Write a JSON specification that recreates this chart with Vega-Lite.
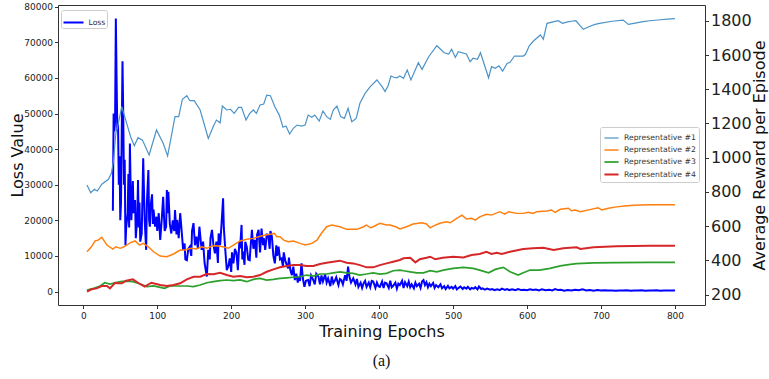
{
"$schema": "https://vega.github.io/schema/vega-lite/v6.json",
"width": 647,
"height": 300,
"autosize": {"type": "none"},
"padding": {"left": 58, "top": 5, "right": 64, "bottom": 74},
"background": "white",
"config": {
  "font": "DejaVu Sans",
  "view": {"stroke": "#333", "strokeWidth": 1},
  "axis": {"grid": false, "domain": false, "tickColor": "#333", "tickSize": 3.5, "labelColor": "#222", "titleColor": "#111", "titleFontWeight": "normal"}
},
"title": {"text": "(a)", "orient": "bottom", "font": "Liberation Serif", "fontSize": 16, "fontWeight": "normal", "color": "#111", "offset": 13},
"datasets": {
  "loss": [
{"epoch":40,"loss":22700},{"epoch":41,"loss":50000},{"epoch":42,"loss":45000},{"epoch":43,"loss":48000},{"epoch":44,"loss":76700},{"epoch":45,"loss":60000},{"epoch":46,"loss":45000},{"epoch":47,"loss":47000},{"epoch":48,"loss":30000},{"epoch":49,"loss":38000},{"epoch":50,"loss":20000},{"epoch":51,"loss":25000},{"epoch":52,"loss":45000},{"epoch":53,"loss":64700},{"epoch":54,"loss":50000},{"epoch":55,"loss":30000},{"epoch":56,"loss":37000},{"epoch":57,"loss":13000},{"epoch":58,"loss":18000},{"epoch":60,"loss":22000},{"epoch":61,"loss":33000},{"epoch":62,"loss":18000},{"epoch":63,"loss":41600},{"epoch":64,"loss":29400},{"epoch":65,"loss":20000},{"epoch":67,"loss":31000},{"epoch":68,"loss":22000},{"epoch":70,"loss":25700},{"epoch":71,"loss":15000},{"epoch":73,"loss":21000},{"epoch":74,"loss":31300},{"epoch":75,"loss":18000},{"epoch":76,"loss":25000},{"epoch":77,"loss":14000},{"epoch":79,"loss":16300},{"epoch":81,"loss":37400},{"epoch":83,"loss":20000},{"epoch":85,"loss":11700},{"epoch":86,"loss":25000},{"epoch":88,"loss":34100},{"epoch":89,"loss":20000},{"epoch":90,"loss":18200},{"epoch":91,"loss":24000},{"epoch":93,"loss":27300},{"epoch":94,"loss":19000},{"epoch":95,"loss":23000},{"epoch":97,"loss":18200},{"epoch":99,"loss":21000},{"epoch":100,"loss":17000},{"epoch":102,"loss":22000},{"epoch":104,"loss":14500},{"epoch":106,"loss":20000},{"epoch":108,"loss":26600},{"epoch":110,"loss":17000},{"epoch":112,"loss":18200},{"epoch":113,"loss":28500},{"epoch":114,"loss":22000},{"epoch":115,"loss":28000},{"epoch":117,"loss":19000},{"epoch":119,"loss":16300},{"epoch":121,"loss":20000},{"epoch":123,"loss":17000},{"epoch":124,"loss":22900},{"epoch":126,"loss":16000},{"epoch":127,"loss":20100},{"epoch":129,"loss":15000},{"epoch":131,"loss":22000},{"epoch":133,"loss":17000},{"epoch":135,"loss":11700},{"epoch":137,"loss":13500},{"epoch":138,"loss":9000},{"epoch":140,"loss":8800},{"epoch":142,"loss":12000},{"epoch":144,"loss":12600},{"epoch":146,"loss":10000},{"epoch":147,"loss":17000},{"epoch":149,"loss":19200},{"epoch":151,"loss":13000},{"epoch":153,"loss":15400},{"epoch":155,"loss":12000},{"epoch":157,"loss":18200},{"epoch":158,"loss":16000},{"epoch":160,"loss":11700},{"epoch":162,"loss":14000},{"epoch":164,"loss":8000},{"epoch":167,"loss":4200},{"epoch":169,"loss":11700},{"epoch":171,"loss":9000},{"epoch":172,"loss":15000},{"epoch":174,"loss":17300},{"epoch":176,"loss":13000},{"epoch":178,"loss":10700},{"epoch":180,"loss":14000},{"epoch":182,"loss":8000},{"epoch":183,"loss":16300},{"epoch":185,"loss":13000},{"epoch":187,"loss":19200},{"epoch":189,"loss":26200},{"epoch":190,"loss":18000},{"epoch":192,"loss":11700},{"epoch":194,"loss":6000},{"epoch":196,"loss":7000},{"epoch":198,"loss":9300},{"epoch":200,"loss":5500},{"epoch":201,"loss":11000},{"epoch":203,"loss":7900},{"epoch":205,"loss":12000},{"epoch":207,"loss":10900},{"epoch":209,"loss":6000},{"epoch":211,"loss":14000},{"epoch":212,"loss":12100},{"epoch":214,"loss":18700},{"epoch":215,"loss":9000},{"epoch":216,"loss":11200},{"epoch":218,"loss":7500},{"epoch":219,"loss":14000},{"epoch":221,"loss":12600},{"epoch":223,"loss":9000},{"epoch":225,"loss":8800},{"epoch":226,"loss":12000},{"epoch":228,"loss":17300},{"epoch":230,"loss":12000},{"epoch":232,"loss":14500},{"epoch":234,"loss":9500},{"epoch":235,"loss":16000},{"epoch":237,"loss":17300},{"epoch":239,"loss":11000},{"epoch":241,"loss":17700},{"epoch":243,"loss":13000},{"epoch":244,"loss":15000},{"epoch":246,"loss":11700},{"epoch":248,"loss":16000},{"epoch":250,"loss":15900},{"epoch":252,"loss":12000},{"epoch":253,"loss":17000},{"epoch":255,"loss":15400},{"epoch":257,"loss":10000},{"epoch":259,"loss":7900},{"epoch":261,"loss":13000},{"epoch":262,"loss":10000},{"epoch":264,"loss":12600},{"epoch":266,"loss":9000},{"epoch":268,"loss":9300},{"epoch":270,"loss":7000},{"epoch":271,"loss":11000},{"epoch":273,"loss":8800},{"epoch":275,"loss":7500},{"epoch":277,"loss":6500},{"epoch":278,"loss":9500},{"epoch":280,"loss":6000},{"epoch":282,"loss":4600},{"epoch":284,"loss":7000},{"epoch":286,"loss":3200},{"epoch":288,"loss":5000},{"epoch":290,"loss":2500},{"epoch":291,"loss":4200},{"epoch":293,"loss":3000},{"epoch":295,"loss":7900},{"epoch":297,"loss":3500},{"epoch":299,"loss":1300},{"epoch":301,"loss":3000},{"epoch":304,"loss":3200},{"epoch":306,"loss":1500},{"epoch":308,"loss":4500},{"epoch":311,"loss":3200},{"epoch":313,"loss":2000},{"epoch":315,"loss":5000},{"epoch":318,"loss":4200},{"epoch":320,"loss":2000},{"epoch":322,"loss":4500},{"epoch":324,"loss":2800},{"epoch":327,"loss":4800},{"epoch":329,"loss":2500},{"epoch":331,"loss":3700},{"epoch":334,"loss":1500},{"epoch":336,"loss":4200},{"epoch":338,"loss":2300},{"epoch":340,"loss":3000},{"epoch":342,"loss":4000},{"epoch":345,"loss":1800},{"epoch":347,"loss":3500},{"epoch":349,"loss":3200},{"epoch":351,"loss":2000},{"epoch":354,"loss":4600},{"epoch":356,"loss":3000},{"epoch":358,"loss":7000},{"epoch":360,"loss":4000},{"epoch":362,"loss":2500},{"epoch":365,"loss":3700},{"epoch":368,"loss":2000},{"epoch":370,"loss":3500},{"epoch":372,"loss":1300},{"epoch":375,"loss":2500},{"epoch":377,"loss":1000},{"epoch":379,"loss":2300},{"epoch":381,"loss":3000},{"epoch":383,"loss":1300},{"epoch":386,"loss":2500},{"epoch":388,"loss":1200},{"epoch":390,"loss":3000},{"epoch":392,"loss":2800},{"epoch":395,"loss":1000},{"epoch":397,"loss":2500},{"epoch":399,"loss":1500},{"epoch":401,"loss":1300},{"epoch":404,"loss":2800},{"epoch":406,"loss":1000},{"epoch":408,"loss":2500},{"epoch":410,"loss":2300},{"epoch":413,"loss":1000},{"epoch":415,"loss":3000},{"epoch":417,"loss":1200},{"epoch":419,"loss":1600},{"epoch":422,"loss":2500},{"epoch":424,"loss":800},{"epoch":426,"loss":2200},{"epoch":428,"loss":1800},{"epoch":431,"loss":3000},{"epoch":433,"loss":1000},{"epoch":435,"loss":2600},{"epoch":438,"loss":1500},{"epoch":440,"loss":2800},{"epoch":442,"loss":1200},{"epoch":444,"loss":2000},{"epoch":447,"loss":900},{"epoch":449,"loss":2500},{"epoch":451,"loss":1500},{"epoch":454,"loss":2200},{"epoch":456,"loss":1000},{"epoch":458,"loss":2800},{"epoch":460,"loss":3200},{"epoch":462,"loss":1800},{"epoch":464,"loss":2600},{"epoch":466,"loss":1200},{"epoch":468,"loss":2200},{"epoch":470,"loss":1500},{"epoch":473,"loss":2400},{"epoch":475,"loss":1000},{"epoch":477,"loss":1800},{"epoch":480,"loss":1200},{"epoch":483,"loss":2000},{"epoch":485,"loss":900},{"epoch":488,"loss":1500},{"epoch":490,"loss":700},{"epoch":493,"loss":1600},{"epoch":495,"loss":900},{"epoch":498,"loss":1300},{"epoch":500,"loss":800},{"epoch":503,"loss":1500},{"epoch":505,"loss":600},{"epoch":508,"loss":1100},{"epoch":510,"loss":1400},{"epoch":513,"loss":700},{"epoch":515,"loss":1200},{"epoch":518,"loss":800},{"epoch":520,"loss":1300},{"epoch":523,"loss":600},{"epoch":525,"loss":1000},{"epoch":528,"loss":800},{"epoch":530,"loss":1200},{"epoch":533,"loss":600},{"epoch":535,"loss":1400},{"epoch":538,"loss":700},{"epoch":540,"loss":900},{"epoch":543,"loss":500},{"epoch":546,"loss":800},{"epoch":550,"loss":500},{"epoch":553,"loss":700},{"epoch":556,"loss":400},{"epoch":560,"loss":600},{"epoch":563,"loss":400},{"epoch":566,"loss":800},{"epoch":570,"loss":450},{"epoch":573,"loss":700},{"epoch":576,"loss":400},{"epoch":580,"loss":600},{"epoch":584,"loss":350},{"epoch":588,"loss":700},{"epoch":592,"loss":400},{"epoch":596,"loss":500},{"epoch":600,"loss":350},{"epoch":604,"loss":600},{"epoch":608,"loss":400},{"epoch":612,"loss":550},{"epoch":616,"loss":300},{"epoch":620,"loss":600},{"epoch":625,"loss":350},{"epoch":630,"loss":500},{"epoch":634,"loss":300},{"epoch":638,"loss":700},{"epoch":642,"loss":400},{"epoch":646,"loss":500},{"epoch":650,"loss":250},{"epoch":655,"loss":400},{"epoch":660,"loss":300},{"epoch":665,"loss":500},{"epoch":670,"loss":350},{"epoch":675,"loss":600},{"epoch":680,"loss":300},{"epoch":685,"loss":450},{"epoch":690,"loss":250},{"epoch":695,"loss":400},{"epoch":700,"loss":300},{"epoch":705,"loss":350},{"epoch":710,"loss":250},{"epoch":715,"loss":300},{"epoch":720,"loss":200},{"epoch":725,"loss":300},{"epoch":730,"loss":250},{"epoch":735,"loss":350},{"epoch":740,"loss":200},{"epoch":745,"loss":300},{"epoch":750,"loss":250},{"epoch":755,"loss":350},{"epoch":760,"loss":200},{"epoch":765,"loss":300},{"epoch":770,"loss":250},{"epoch":775,"loss":350},{"epoch":780,"loss":200},{"epoch":785,"loss":300},{"epoch":790,"loss":250},{"epoch":795,"loss":300},{"epoch":800,"loss":250}
  ],
  "reward": [
{"series":"Representative #1","epoch":5,"reward":841},{"series":"Representative #1","epoch":10,"reward":796},{"series":"Representative #1","epoch":15,"reward":816},{"series":"Representative #1","epoch":19,"reward":806},{"series":"Representative #1","epoch":25,"reward":845},{"series":"Representative #1","epoch":34,"reward":874},{"series":"Representative #1","epoch":38,"reward":909},{"series":"Representative #1","epoch":41,"reward":987},{"series":"Representative #1","epoch":44,"reward":1143},{"series":"Representative #1","epoch":46,"reward":1172},{"series":"Representative #1","epoch":52,"reward":1298},{"series":"Representative #1","epoch":56,"reward":1240},{"series":"Representative #1","epoch":64,"reward":1123},{"series":"Representative #1","epoch":69,"reward":1070},{"series":"Representative #1","epoch":74,"reward":1117},{"series":"Representative #1","epoch":80,"reward":1103},{"series":"Representative #1","epoch":89,"reward":1016},{"series":"Representative #1","epoch":99,"reward":1162},{"series":"Representative #1","epoch":108,"reward":1084},{"series":"Representative #1","epoch":114,"reward":1010},{"series":"Representative #1","epoch":124,"reward":1240},{"series":"Representative #1","epoch":129,"reward":1240},{"series":"Representative #1","epoch":134,"reward":1341},{"series":"Representative #1","epoch":140,"reward":1362},{"series":"Representative #1","epoch":144,"reward":1333},{"series":"Representative #1","epoch":150,"reward":1333},{"series":"Representative #1","epoch":158,"reward":1279},{"series":"Representative #1","epoch":169,"reward":1113},{"series":"Representative #1","epoch":176,"reward":1185},{"series":"Representative #1","epoch":180,"reward":1220},{"series":"Representative #1","epoch":185,"reward":1204},{"series":"Representative #1","epoch":188,"reward":1302},{"series":"Representative #1","epoch":194,"reward":1279},{"series":"Representative #1","epoch":199,"reward":1283},{"series":"Representative #1","epoch":204,"reward":1259},{"series":"Representative #1","epoch":210,"reward":1294},{"series":"Representative #1","epoch":214,"reward":1294},{"series":"Representative #1","epoch":220,"reward":1220},{"series":"Representative #1","epoch":225,"reward":1259},{"series":"Representative #1","epoch":230,"reward":1279},{"series":"Representative #1","epoch":234,"reward":1259},{"series":"Representative #1","epoch":239,"reward":1308},{"series":"Representative #1","epoch":244,"reward":1314},{"series":"Representative #1","epoch":248,"reward":1366},{"series":"Representative #1","epoch":253,"reward":1362},{"series":"Representative #1","epoch":259,"reward":1298},{"series":"Representative #1","epoch":265,"reward":1249},{"series":"Representative #1","epoch":270,"reward":1178},{"series":"Representative #1","epoch":274,"reward":1185},{"series":"Representative #1","epoch":279,"reward":1138},{"series":"Representative #1","epoch":284,"reward":1172},{"series":"Representative #1","epoch":289,"reward":1191},{"series":"Representative #1","epoch":295,"reward":1185},{"series":"Representative #1","epoch":300,"reward":1191},{"series":"Representative #1","epoch":304,"reward":1249},{"series":"Representative #1","epoch":309,"reward":1236},{"series":"Representative #1","epoch":313,"reward":1249},{"series":"Representative #1","epoch":319,"reward":1214},{"series":"Representative #1","epoch":324,"reward":1273},{"series":"Representative #1","epoch":329,"reward":1240},{"series":"Representative #1","epoch":334,"reward":1224},{"series":"Representative #1","epoch":338,"reward":1279},{"series":"Representative #1","epoch":343,"reward":1302},{"series":"Representative #1","epoch":348,"reward":1240},{"series":"Representative #1","epoch":353,"reward":1230},{"series":"Representative #1","epoch":358,"reward":1289},{"series":"Representative #1","epoch":363,"reward":1210},{"series":"Representative #1","epoch":369,"reward":1230},{"series":"Representative #1","epoch":374,"reward":1318},{"series":"Representative #1","epoch":381,"reward":1376},{"series":"Representative #1","epoch":388,"reward":1415},{"series":"Representative #1","epoch":397,"reward":1454},{"series":"Representative #1","epoch":404,"reward":1415},{"series":"Representative #1","epoch":408,"reward":1386},{"series":"Representative #1","epoch":412,"reward":1419},{"series":"Representative #1","epoch":416,"reward":1477},{"series":"Representative #1","epoch":420,"reward":1470},{"series":"Representative #1","epoch":424,"reward":1467},{"series":"Representative #1","epoch":428,"reward":1477},{"series":"Representative #1","epoch":433,"reward":1464},{"series":"Representative #1","epoch":438,"reward":1512},{"series":"Representative #1","epoch":443,"reward":1454},{"series":"Representative #1","epoch":453,"reward":1555},{"series":"Representative #1","epoch":458,"reward":1516},{"series":"Representative #1","epoch":467,"reward":1590},{"series":"Representative #1","epoch":478,"reward":1654},{"series":"Representative #1","epoch":488,"reward":1613},{"series":"Representative #1","epoch":494,"reward":1606},{"series":"Representative #1","epoch":498,"reward":1633},{"series":"Representative #1","epoch":503,"reward":1586},{"series":"Representative #1","epoch":507,"reward":1619},{"series":"Representative #1","epoch":518,"reward":1606},{"series":"Representative #1","epoch":523,"reward":1561},{"series":"Representative #1","epoch":527,"reward":1581},{"series":"Representative #1","epoch":533,"reward":1575},{"series":"Representative #1","epoch":537,"reward":1613},{"series":"Representative #1","epoch":548,"reward":1467},{"series":"Representative #1","epoch":552,"reward":1532},{"series":"Representative #1","epoch":557,"reward":1522},{"series":"Representative #1","epoch":562,"reward":1537},{"series":"Representative #1","epoch":567,"reward":1506},{"series":"Representative #1","epoch":573,"reward":1551},{"series":"Representative #1","epoch":577,"reward":1557},{"series":"Representative #1","epoch":583,"reward":1594},{"series":"Representative #1","epoch":595,"reward":1594},{"series":"Representative #1","epoch":598,"reward":1604},{"series":"Representative #1","epoch":603,"reward":1654},{"series":"Representative #1","epoch":609,"reward":1683},{"series":"Representative #1","epoch":618,"reward":1717},{"series":"Representative #1","epoch":622,"reward":1692},{"series":"Representative #1","epoch":627,"reward":1785},{"series":"Representative #1","epoch":642,"reward":1800},{"series":"Representative #1","epoch":648,"reward":1785},{"series":"Representative #1","epoch":655,"reward":1793},{"series":"Representative #1","epoch":660,"reward":1797},{"series":"Representative #1","epoch":666,"reward":1800},{"series":"Representative #1","epoch":676,"reward":1750},{"series":"Representative #1","epoch":685,"reward":1768},{"series":"Representative #1","epoch":692,"reward":1779},{"series":"Representative #1","epoch":698,"reward":1785},{"series":"Representative #1","epoch":715,"reward":1797},{"series":"Representative #1","epoch":730,"reward":1804},{"series":"Representative #1","epoch":737,"reward":1779},{"series":"Representative #1","epoch":748,"reward":1788},{"series":"Representative #1","epoch":757,"reward":1795},{"series":"Representative #1","epoch":766,"reward":1800},{"series":"Representative #1","epoch":780,"reward":1806},{"series":"Representative #1","epoch":790,"reward":1809},{"series":"Representative #1","epoch":800,"reward":1812},
{"series":"Representative #2","epoch":5,"reward":451},{"series":"Representative #2","epoch":11,"reward":480},{"series":"Representative #2","epoch":16,"reward":515},{"series":"Representative #2","epoch":20,"reward":519},{"series":"Representative #2","epoch":25,"reward":535},{"series":"Representative #2","epoch":32,"reward":490},{"series":"Representative #2","epoch":40,"reward":467},{"series":"Representative #2","epoch":44,"reward":480},{"series":"Representative #2","epoch":50,"reward":471},{"series":"Representative #2","epoch":55,"reward":480},{"series":"Representative #2","epoch":64,"reward":504},{"series":"Representative #2","epoch":70,"reward":514},{"series":"Representative #2","epoch":76,"reward":490},{"series":"Representative #2","epoch":81,"reward":500},{"series":"Representative #2","epoch":88,"reward":480},{"series":"Representative #2","epoch":95,"reward":451},{"series":"Representative #2","epoch":104,"reward":426},{"series":"Representative #2","epoch":113,"reward":422},{"series":"Representative #2","epoch":122,"reward":438},{"series":"Representative #2","epoch":131,"reward":461},{"series":"Representative #2","epoch":137,"reward":461},{"series":"Representative #2","epoch":146,"reward":471},{"series":"Representative #2","epoch":153,"reward":467},{"series":"Representative #2","epoch":160,"reward":480},{"series":"Representative #2","epoch":167,"reward":471},{"series":"Representative #2","epoch":174,"reward":484},{"series":"Representative #2","epoch":180,"reward":486},{"series":"Representative #2","epoch":189,"reward":480},{"series":"Representative #2","epoch":196,"reward":471},{"series":"Representative #2","epoch":203,"reward":490},{"series":"Representative #2","epoch":212,"reward":514},{"series":"Representative #2","epoch":221,"reward":524},{"series":"Representative #2","epoch":230,"reward":529},{"series":"Representative #2","epoch":237,"reward":539},{"series":"Representative #2","epoch":246,"reward":549},{"series":"Representative #2","epoch":253,"reward":553},{"series":"Representative #2","epoch":258,"reward":559},{"series":"Representative #2","epoch":262,"reward":539},{"series":"Representative #2","epoch":266,"reward":539},{"series":"Representative #2","epoch":271,"reward":519},{"series":"Representative #2","epoch":277,"reward":510},{"series":"Representative #2","epoch":284,"reward":514},{"series":"Representative #2","epoch":293,"reward":500},{"series":"Representative #2","epoch":300,"reward":490},{"series":"Representative #2","epoch":309,"reward":500},{"series":"Representative #2","epoch":316,"reward":519},{"series":"Representative #2","epoch":322,"reward":559},{"series":"Representative #2","epoch":329,"reward":597},{"series":"Representative #2","epoch":336,"reward":607},{"series":"Representative #2","epoch":347,"reward":597},{"series":"Representative #2","epoch":356,"reward":582},{"series":"Representative #2","epoch":370,"reward":582},{"series":"Representative #2","epoch":379,"reward":597},{"series":"Representative #2","epoch":383,"reward":607},{"series":"Representative #2","epoch":388,"reward":591},{"series":"Representative #2","epoch":392,"reward":597},{"series":"Representative #2","epoch":401,"reward":617},{"series":"Representative #2","epoch":410,"reward":607},{"series":"Representative #2","epoch":415,"reward":607},{"series":"Representative #2","epoch":424,"reward":594},{"series":"Representative #2","epoch":428,"reward":584},{"series":"Representative #2","epoch":437,"reward":597},{"series":"Representative #2","epoch":446,"reward":613},{"series":"Representative #2","epoch":458,"reward":620},{"series":"Representative #2","epoch":464,"reward":613},{"series":"Representative #2","epoch":469,"reward":591},{"series":"Representative #2","epoch":473,"reward":601},{"series":"Representative #2","epoch":482,"reward":617},{"series":"Representative #2","epoch":491,"reward":626},{"series":"Representative #2","epoch":496,"reward":620},{"series":"Representative #2","epoch":505,"reward":646},{"series":"Representative #2","epoch":512,"reward":665},{"series":"Representative #2","epoch":518,"reward":642},{"series":"Representative #2","epoch":525,"reward":646},{"series":"Representative #2","epoch":530,"reward":636},{"series":"Representative #2","epoch":536,"reward":655},{"series":"Representative #2","epoch":545,"reward":670},{"series":"Representative #2","epoch":552,"reward":665},{"series":"Representative #2","epoch":563,"reward":685},{"series":"Representative #2","epoch":570,"reward":671},{"series":"Representative #2","epoch":575,"reward":685},{"series":"Representative #2","epoch":586,"reward":675},{"series":"Representative #2","epoch":595,"reward":675},{"series":"Representative #2","epoch":602,"reward":681},{"series":"Representative #2","epoch":608,"reward":675},{"series":"Representative #2","epoch":613,"reward":685},{"series":"Representative #2","epoch":627,"reward":689},{"series":"Representative #2","epoch":633,"reward":695},{"series":"Representative #2","epoch":638,"reward":681},{"series":"Representative #2","epoch":645,"reward":699},{"series":"Representative #2","epoch":656,"reward":705},{"series":"Representative #2","epoch":660,"reward":690},{"series":"Representative #2","epoch":665,"reward":695},{"series":"Representative #2","epoch":672,"reward":685},{"series":"Representative #2","epoch":685,"reward":697},{"series":"Representative #2","epoch":696,"reward":708},{"series":"Representative #2","epoch":701,"reward":695},{"series":"Representative #2","epoch":710,"reward":705},{"series":"Representative #2","epoch":721,"reward":713},{"series":"Representative #2","epoch":732,"reward":718},{"series":"Representative #2","epoch":744,"reward":722},{"series":"Representative #2","epoch":766,"reward":725},{"series":"Representative #2","epoch":800,"reward":726},
{"series":"Representative #3","epoch":5,"reward":227},{"series":"Representative #3","epoch":14,"reward":237},{"series":"Representative #3","epoch":23,"reward":251},{"series":"Representative #3","epoch":29,"reward":270},{"series":"Representative #3","epoch":36,"reward":262},{"series":"Representative #3","epoch":43,"reward":270},{"series":"Representative #3","epoch":50,"reward":276},{"series":"Representative #3","epoch":58,"reward":280},{"series":"Representative #3","epoch":67,"reward":276},{"series":"Representative #3","epoch":74,"reward":267},{"series":"Representative #3","epoch":86,"reward":247},{"series":"Representative #3","epoch":95,"reward":251},{"series":"Representative #3","epoch":104,"reward":243},{"series":"Representative #3","epoch":110,"reward":237},{"series":"Representative #3","epoch":117,"reward":251},{"series":"Representative #3","epoch":126,"reward":251},{"series":"Representative #3","epoch":140,"reward":251},{"series":"Representative #3","epoch":149,"reward":247},{"series":"Representative #3","epoch":158,"reward":257},{"series":"Representative #3","epoch":167,"reward":270},{"series":"Representative #3","epoch":176,"reward":276},{"series":"Representative #3","epoch":185,"reward":282},{"series":"Representative #3","epoch":194,"reward":286},{"series":"Representative #3","epoch":203,"reward":282},{"series":"Representative #3","epoch":212,"reward":286},{"series":"Representative #3","epoch":221,"reward":276},{"series":"Representative #3","epoch":230,"reward":290},{"series":"Representative #3","epoch":239,"reward":296},{"series":"Representative #3","epoch":248,"reward":286},{"series":"Representative #3","epoch":257,"reward":290},{"series":"Representative #3","epoch":266,"reward":296},{"series":"Representative #3","epoch":275,"reward":299},{"series":"Representative #3","epoch":284,"reward":302},{"series":"Representative #3","epoch":293,"reward":305},{"series":"Representative #3","epoch":302,"reward":315},{"series":"Representative #3","epoch":311,"reward":309},{"series":"Representative #3","epoch":320,"reward":321},{"series":"Representative #3","epoch":329,"reward":321},{"series":"Representative #3","epoch":338,"reward":328},{"series":"Representative #3","epoch":347,"reward":334},{"series":"Representative #3","epoch":356,"reward":328},{"series":"Representative #3","epoch":365,"reward":325},{"series":"Representative #3","epoch":374,"reward":315},{"series":"Representative #3","epoch":383,"reward":321},{"series":"Representative #3","epoch":392,"reward":328},{"series":"Representative #3","epoch":401,"reward":321},{"series":"Representative #3","epoch":410,"reward":325},{"series":"Representative #3","epoch":419,"reward":340},{"series":"Representative #3","epoch":428,"reward":344},{"series":"Representative #3","epoch":433,"reward":340},{"series":"Representative #3","epoch":442,"reward":334},{"series":"Representative #3","epoch":451,"reward":328},{"series":"Representative #3","epoch":460,"reward":328},{"series":"Representative #3","epoch":469,"reward":340},{"series":"Representative #3","epoch":478,"reward":334},{"series":"Representative #3","epoch":487,"reward":344},{"series":"Representative #3","epoch":500,"reward":354},{"series":"Representative #3","epoch":514,"reward":360},{"series":"Representative #3","epoch":527,"reward":354},{"series":"Representative #3","epoch":536,"reward":344},{"series":"Representative #3","epoch":548,"reward":328},{"series":"Representative #3","epoch":557,"reward":348},{"series":"Representative #3","epoch":568,"reward":360},{"series":"Representative #3","epoch":577,"reward":334},{"series":"Representative #3","epoch":588,"reward":315},{"series":"Representative #3","epoch":595,"reward":328},{"series":"Representative #3","epoch":604,"reward":344},{"series":"Representative #3","epoch":617,"reward":344},{"series":"Representative #3","epoch":631,"reward":354},{"series":"Representative #3","epoch":645,"reward":368},{"series":"Representative #3","epoch":656,"reward":376},{"series":"Representative #3","epoch":667,"reward":381},{"series":"Representative #3","epoch":690,"reward":386},{"series":"Representative #3","epoch":721,"reward":388},{"series":"Representative #3","epoch":766,"reward":389},{"series":"Representative #3","epoch":800,"reward":389},
{"series":"Representative #4","epoch":5,"reward":218},{"series":"Representative #4","epoch":11,"reward":232},{"series":"Representative #4","epoch":18,"reward":237},{"series":"Representative #4","epoch":25,"reward":251},{"series":"Representative #4","epoch":32,"reward":251},{"series":"Representative #4","epoch":36,"reward":237},{"series":"Representative #4","epoch":43,"reward":270},{"series":"Representative #4","epoch":47,"reward":267},{"series":"Representative #4","epoch":52,"reward":267},{"series":"Representative #4","epoch":58,"reward":282},{"series":"Representative #4","epoch":67,"reward":290},{"series":"Representative #4","epoch":74,"reward":270},{"series":"Representative #4","epoch":83,"reward":247},{"series":"Representative #4","epoch":92,"reward":270},{"series":"Representative #4","epoch":104,"reward":257},{"series":"Representative #4","epoch":113,"reward":251},{"series":"Representative #4","epoch":122,"reward":257},{"series":"Representative #4","epoch":131,"reward":267},{"series":"Representative #4","epoch":140,"reward":290},{"series":"Representative #4","epoch":149,"reward":305},{"series":"Representative #4","epoch":158,"reward":305},{"series":"Representative #4","epoch":167,"reward":321},{"series":"Representative #4","epoch":176,"reward":319},{"series":"Representative #4","epoch":185,"reward":328},{"series":"Representative #4","epoch":194,"reward":315},{"series":"Representative #4","epoch":203,"reward":305},{"series":"Representative #4","epoch":212,"reward":309},{"series":"Representative #4","epoch":221,"reward":302},{"series":"Representative #4","epoch":230,"reward":305},{"series":"Representative #4","epoch":239,"reward":315},{"series":"Representative #4","epoch":248,"reward":334},{"series":"Representative #4","epoch":257,"reward":348},{"series":"Representative #4","epoch":266,"reward":360},{"series":"Representative #4","epoch":275,"reward":368},{"series":"Representative #4","epoch":284,"reward":373},{"series":"Representative #4","epoch":293,"reward":373},{"series":"Representative #4","epoch":302,"reward":368},{"series":"Representative #4","epoch":311,"reward":368},{"series":"Representative #4","epoch":320,"reward":379},{"series":"Representative #4","epoch":329,"reward":387},{"series":"Representative #4","epoch":338,"reward":393},{"series":"Representative #4","epoch":347,"reward":399},{"series":"Representative #4","epoch":356,"reward":387},{"series":"Representative #4","epoch":365,"reward":383},{"series":"Representative #4","epoch":374,"reward":373},{"series":"Representative #4","epoch":383,"reward":360},{"series":"Representative #4","epoch":392,"reward":360},{"series":"Representative #4","epoch":401,"reward":373},{"series":"Representative #4","epoch":410,"reward":383},{"series":"Representative #4","epoch":419,"reward":393},{"series":"Representative #4","epoch":428,"reward":403},{"series":"Representative #4","epoch":433,"reward":413},{"series":"Representative #4","epoch":442,"reward":416},{"series":"Representative #4","epoch":449,"reward":389},{"series":"Representative #4","epoch":455,"reward":407},{"series":"Representative #4","epoch":464,"reward":416},{"series":"Representative #4","epoch":469,"reward":422},{"series":"Representative #4","epoch":476,"reward":407},{"series":"Representative #4","epoch":486,"reward":416},{"series":"Representative #4","epoch":500,"reward":422},{"series":"Representative #4","epoch":514,"reward":418},{"series":"Representative #4","epoch":525,"reward":432},{"series":"Representative #4","epoch":536,"reward":438},{"series":"Representative #4","epoch":545,"reward":451},{"series":"Representative #4","epoch":552,"reward":438},{"series":"Representative #4","epoch":559,"reward":445},{"series":"Representative #4","epoch":566,"reward":438},{"series":"Representative #4","epoch":577,"reward":451},{"series":"Representative #4","epoch":595,"reward":467},{"series":"Representative #4","epoch":608,"reward":471},{"series":"Representative #4","epoch":622,"reward":474},{"series":"Representative #4","epoch":636,"reward":461},{"series":"Representative #4","epoch":649,"reward":471},{"series":"Representative #4","epoch":667,"reward":477},{"series":"Representative #4","epoch":672,"reward":467},{"series":"Representative #4","epoch":690,"reward":477},{"series":"Representative #4","epoch":721,"reward":483},{"series":"Representative #4","epoch":766,"reward":486},{"series":"Representative #4","epoch":800,"reward":486}
  ]
},
"layer": [
  {
    "data": {"name": "loss"},
    "mark": {"type": "line", "strokeWidth": 2, "clip": true},
    "encoding": {
      "x": {"field": "epoch", "type": "quantitative", "scale": {"domain": [-34.2, 840.6], "nice": false, "zero": false},
            "axis": {"values": [0,100,200,300,400,500,600,700,800], "title": "Training Epochs", "titleFontSize": 16, "labelFontSize": 9, "labelPadding": 3, "titlePadding": 3}},
      "y": {"field": "loss", "type": "quantitative", "scale": {"domain": [-3790, 80480], "nice": false, "zero": false},
            "axis": {"values": [0,10000,20000,30000,40000,50000,60000,70000,80000], "format": "d", "title": "Loss Value", "titleFontSize": 16, "labelFontSize": 9, "labelPadding": 2, "titlePadding": -2}},
      "color": {"datum": "Loss", "type": "nominal", "scale": {"domain": ["Loss"], "range": ["#0000ff"]},
                "legend": {"title": null, "orient": "none", "legendX": 3, "legendY": 5, "symbolType": "stroke", "symbolStrokeWidth": 2, "symbolSize": 400, "labelFontSize": 7.7, "labelColor": "#333", "fillColor": "white", "strokeColor": "#ccc", "cornerRadius": 2, "padding": 1.5}}
    }
  },
  {
    "data": {"name": "reward"},
    "mark": {"type": "line", "clip": true},
    "encoding": {
      "x": {"field": "epoch", "type": "quantitative"},
      "y": {"field": "reward", "type": "quantitative", "scale": {"domain": [140, 1892], "nice": false, "zero": false},
            "axis": {"orient": "right", "values": [200,400,600,800,1000,1200,1400,1600,1800], "format": "d", "title": "Average Reward per Episode", "titleAngle": 270, "titleBaseline": "top", "titleFontSize": 16, "labelFontSize": 16, "labelPadding": 2, "titlePadding": 0}},
      "color": {"field": "series", "type": "nominal",
                "scale": {"domain": ["Representative #1","Representative #2","Representative #3","Representative #4"], "range": ["#4c93c8","#ff7f0e","#2ca02c","#d62728"]},
                "legend": {"title": null, "orient": "none", "legendX": 542, "legendY": 122, "symbolType": "stroke", "symbolStrokeWidth": 2, "symbolSize": 200, "labelFontSize": 7.7, "labelColor": "#333", "fillColor": "white", "strokeColor": "#ccc", "cornerRadius": 2, "padding": 3, "rowPadding": -4}},
      "strokeWidth": {"field": "series", "type": "nominal",
                "scale": {"domain": ["Representative #1","Representative #2","Representative #3","Representative #4"], "range": [1.2, 2, 2, 2]},
                "legend": null}
    }
  }
],
"resolve": {"scale": {"y": "independent", "color": "independent", "strokeWidth": "independent"}}
}
